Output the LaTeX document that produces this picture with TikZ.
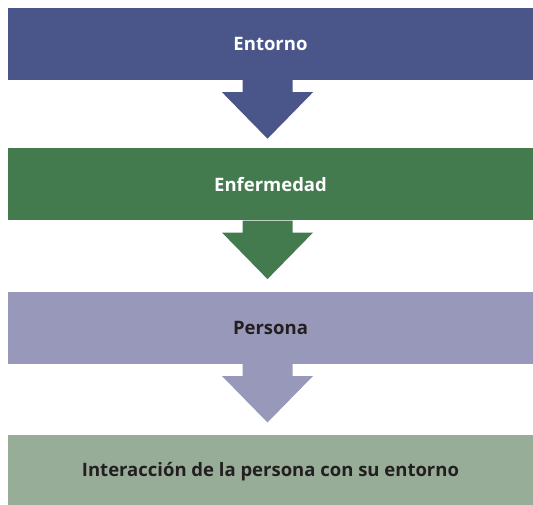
\documentclass[tikz,border=0pt]{standalone}
\usepackage{fontspec}
\setmainfont{Open Sans}
\usetikzlibrary{positioning,calc}

\definecolor{entornoblue}{HTML}{4A5689}
\definecolor{enfgreen}{HTML}{437B4F}
\definecolor{personalila}{HTML}{9899BA}
\definecolor{interverde}{HTML}{97AD97}
\definecolor{textdark}{HTML}{231F20}

\begin{document}
\begin{tikzpicture}[x=1pt,y=1pt,
    box/.style={rectangle, minimum width=525pt, minimum height=72pt,
    inner sep=0pt, font=\bfseries\fontsize{18.5}{22}\selectfont},
    down/.style={xshift=-3pt}]
  \useasboundingbox (0,0) rectangle (533,504);

  \node[box,fill=entornoblue,text=white] (A) at (270.5,460) {Entorno};
  \node[box,fill=enfgreen,text=white,below=68pt of A] (B) {Enfermedad};
  \node[box,fill=personalila,text=textdark,below=71pt of B] (C) {Persona};
  \node[box,fill=interverde,text=textdark,below=71pt of C] (D)
    {Interacción de la persona con su entorno};

  % block arrows between the boxes
  \foreach \a/\b/\c in {A/B/entornoblue,B/C/enfgreen,C/D/personalila}
    \fill[\c] let \p1 = ($(\a.south)+(-3,0)$) in
      (\x1-25,\y1) -- (\x1+25,\y1) -- (\x1+25,\y1-12) -- (\x1+45.5,\y1-12)
      -- (\x1,\y1-58.5) -- (\x1-45.5,\y1-12) -- (\x1-25,\y1-12) -- cycle;
\end{tikzpicture}
\end{document}
